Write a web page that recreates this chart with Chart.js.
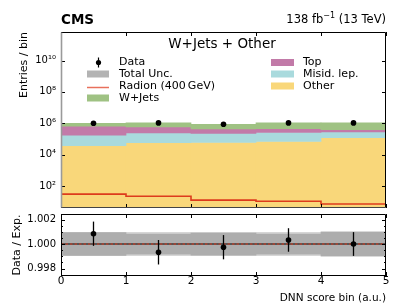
<!DOCTYPE html>
<html><head><meta charset="utf-8">
<script src="https://cdn.jsdelivr.net/npm/chart.js@4/dist/chart.umd.min.js"></script>
<style>
html,body{margin:0;padding:0;background:#fff;}
#wrap{position:relative;width:407px;height:305px;overflow:hidden;background:#fff;}
#c1{position:absolute;left:0;top:0;}
#c2{position:absolute;left:0;top:210px;}
</style></head><body>
<div id="wrap"><canvas id="c1" width="407" height="212"></canvas><canvas id="c2" width="407" height="95"></canvas></div>
<script>
// ---- data ----
const binEdges   = [0, 1, 2, 3, 4, 5];
const binCenters = [0.5, 1.5, 2.5, 3.5, 4.5];
const otherBkg = [3.7e4, 5.7e4, 5.9e4, 6.8e4, 1.18e5];
const misidLep = [1.38e5, 1.88e5, 1.68e5, 1.87e5, 1.64e5];
const topQuark = [4.75e5, 3.4e5, 2.1e5, 2.02e5, 1.13e5];
const wJets    = [3.5e5, 4.65e5, 4.28e5, 5.93e5, 6.55e5];
const radion   = [30, 22, 12.5, 10.5, 7];
const dataObs  = [1.0e6, 1.05e6, 8.65e5, 1.05e6, 1.05e6];
const ratio    = [1.00084, 0.99933, 0.99974, 1.00033, 1.0000];
const ratioErr = [0.00099, 0.00100, 0.00099, 0.00096, 0.00097];
const uncDark  = [0.00094, 0.00082, 0.00090, 0.00082, 0.00098];
const uncLight = [0.00096, 0.00096, 0.00096, 0.00096, 0.00099];
const mainYTicks  = [1e2, 1e4, 1e6, 1e8, 1e10];
const ratioYTicks = [0.998, 1.000, 1.002];
const xTicks = [0, 1, 2, 3, 4, 5];

const FONT = "'DejaVu Sans', sans-serif";
const COL = {wj:'#9fc283', top:'#c27aa8', misid:'#a9dadd', other:'#f9d77a', radion:'#dd3b1c', unc:'#b3b3b3'};

// cumulative stack
const s1 = otherBkg.slice();
const s2 = s1.map((v,i)=>v+misidLep[i]);
const s3 = s2.map((v,i)=>v+topQuark[i]);
const s4 = s3.map((v,i)=>v+wJets[i]);
const floor = 1;

function floating(lo, hi){ return binCenters.map((c,i)=>({x:c, y:[lo[i], hi[i]]})); }
function stepPts(arr){ const p = arr.map((v,i)=>({x:binEdges[i], y:v})); p.push({x:binEdges[5], y:arr[arr.length-1]}); return p; }
const SUP = {'0':'⁰','1':'¹','2':'²','3':'³','4':'⁴','5':'⁵','6':'⁶','7':'⁷','8':'⁸','9':'⁹'};
function logLabel(v){ const e = Math.round(Math.log10(v)); return '10' + String(e).split('').map(c=>SUP[c]).join(''); }
function noPad(s){ s.paddingTop = 0; s.paddingBottom = 0; s.paddingLeft = 0; s.paddingRight = 0; }

const barCommon = {type:'bar', grouped:false, barPercentage:1, categoryPercentage:1, borderWidth:0, borderSkipped:false};

const framePlugin = {
  id:'frame',
  afterDatasetsDraw(chart, args, o){
    const {ctx, chartArea:a, scales} = chart;
    const xs = scales.x, ys = scales.y;
    ctx.save();
    ctx.lineWidth = 1; ctx.strokeStyle = '#000';
    ctx.beginPath();
    for (const v of o.xt){ const px = Math.round(xs.getPixelForValue(v))+0.5;
      ctx.moveTo(px, a.top); ctx.lineTo(px, a.top+4); ctx.moveTo(px, a.bottom); ctx.lineTo(px, a.bottom-4); }
    for (const v of o.yt){ const py = Math.round(ys.getPixelForValue(v))+0.5;
      ctx.moveTo(a.left, py); ctx.lineTo(a.left+4, py); ctx.moveTo(a.right, py); ctx.lineTo(a.right-4, py); }
    for (const v of (o.ym||[])){ const py = Math.round(ys.getPixelForValue(v))+0.5;
      ctx.moveTo(a.left, py); ctx.lineTo(a.left+2, py); ctx.moveTo(a.right, py); ctx.lineTo(a.right-2, py); }
    ctx.stroke();
    // spines
    const L = Math.round(a.left)+0.5, R = Math.round(a.right)-0.5, T = Math.round(a.top)+0.5, B = Math.round(a.bottom)-0.5;
    ctx.beginPath(); ctx.strokeStyle='#000'; ctx.moveTo(L,T); ctx.lineTo(R,T); ctx.lineTo(R,B); ctx.stroke();
    ctx.beginPath(); ctx.strokeStyle=o.bottomCol; ctx.moveTo(L,B); ctx.lineTo(R,B); ctx.stroke();
    ctx.beginPath(); ctx.strokeStyle=o.leftCol; ctx.lineWidth=o.leftW; ctx.moveTo(L,T); ctx.lineTo(L,B); ctx.stroke();
    ctx.restore();
  }
};

const textPlugin = {
  id:'texts',
  afterDraw(chart){
    const ctx = chart.ctx;
    ctx.save();
    ctx.fillStyle = '#000'; ctx.textBaseline = 'middle';
    ctx.font = "bold 13.5px " + FONT; ctx.textAlign = 'left';
    ctx.fillText('CMS', 61, 20);
    // luminosity text, right aligned
    const f1 = "11.5px " + FONT, f2 = "8px " + FONT;
    ctx.font = f1; const wA = ctx.measureText('138 fb').width, wC = ctx.measureText(' (13 TeV)').width;
    ctx.font = f2; const wB = ctx.measureText('−1').width;
    let x0 = 386 - (wA+wB+wC);
    ctx.font = f1; ctx.fillText('138 fb', x0, 20);
    ctx.font = f2; ctx.fillText('−1', x0+wA, 16);
    ctx.font = f1; ctx.fillText(' (13 TeV)', x0+wA+wB, 20);
    // title
    ctx.font = "13.5px " + FONT; ctx.textAlign = 'center';
    ctx.fillText('W+Jets + Other', 222, 44);
    // legend
    ctx.font = "11px " + FONT; ctx.textAlign = 'left';
    const rows = [62.5, 74, 86, 98];
    ctx.strokeStyle = '#000'; ctx.lineWidth = 1.2;
    ctx.beginPath(); ctx.moveTo(98.5, rows[0]-5); ctx.lineTo(98.5, rows[0]+5); ctx.stroke();
    ctx.beginPath(); ctx.arc(98.5, rows[0], 2.6, 0, Math.PI*2); ctx.fill();
    ctx.fillText('Data', 119, rows[0]);
    ctx.fillStyle = COL.unc; ctx.fillRect(87, rows[1]-3.5, 22, 7);
    ctx.fillStyle = '#000'; ctx.fillText('Total Unc.', 119, rows[1]);
    ctx.strokeStyle = '#e8705c'; ctx.lineWidth = 1.5;
    ctx.beginPath(); ctx.moveTo(87, rows[2]+1.5); ctx.lineTo(109, rows[2]+1.5); ctx.stroke();
    ctx.fillText('Radion (400\u2009GeV)', 119, rows[2]);
    ctx.fillStyle = COL.wj; ctx.fillRect(87, rows[3]-3.5, 22, 7);
    ctx.fillStyle = '#000'; ctx.fillText('W+Jets', 119, rows[3]);
    const rc = [['Top', COL.top], ['Misid. lep.', COL.misid], ['Other', COL.other]];
    rc.forEach((r,i)=>{ ctx.fillStyle = r[1]; ctx.fillRect(271, rows[i]-3.5, 23, 7); ctx.fillStyle='#000'; ctx.fillText(r[0], 303, rows[i]); });
    ctx.restore();
  }
};

const errPlugin = {
  id:'errbars',
  afterDatasetsDraw(chart){
    const {ctx, scales} = chart; const xs = scales.x, ys = scales.y;
    ctx.save(); ctx.strokeStyle = '#000'; ctx.lineWidth = 1.3;
    ratio.forEach((r,i)=>{
      const px = xs.getPixelForValue(binCenters[i]);
      ctx.beginPath(); ctx.moveTo(px, ys.getPixelForValue(r-ratioErr[i])); ctx.lineTo(px, ys.getPixelForValue(r+ratioErr[i])); ctx.stroke();
    });
    ctx.restore();
  }
};

Chart.defaults.font.family = FONT;
Chart.defaults.color = '#000';

new Chart(document.getElementById('c1'), {
  type:'bar',
  data:{ datasets:[
    {type:'scatter', data: binCenters.map((c,i)=>({x:c, y:dataObs[i]})), pointRadius:2.8, pointBackgroundColor:'#000', pointBorderWidth:0, order:0},
    {type:'line', data: stepPts(radion), stepped:'before', borderColor:COL.radion, borderWidth:1.6, pointRadius:0, fill:false, order:1},
    Object.assign({}, barCommon, {data: floating(s3, s4), backgroundColor: COL.wj, order:2}),
    Object.assign({}, barCommon, {data: floating(s2, s3), backgroundColor: COL.top, order:3}),
    Object.assign({}, barCommon, {data: floating(s1, s2), backgroundColor: COL.misid, order:4}),
    Object.assign({}, barCommon, {data: floating(s1.map(()=>floor), s1), backgroundColor: COL.other, order:5}),
  ]},
  options:{
    responsive:false, animation:false, events:[],
    layout:{padding:{left:0, right:21, top:32, bottom:2}},
    plugins:{legend:{display:false}, tooltip:{enabled:false},
      frame:{xt:xTicks, yt:mainYTicks, leftCol:'#9a9a9a', leftW:1.6, bottomCol:'#444'}},
    scales:{
      x:{type:'linear', display:false, min:0, max:5, offset:false, bounds:'data', afterFit: noPad},
      y:{type:'logarithmic', min:3.92, max:6.6e11, bounds:'data',
        afterBuildTicks: s => { s.ticks = mainYTicks.map(v=>({value:v})); },
        afterFit: s => { s.width = 61; noPad(s); },
        grid:{display:false, drawTicks:false}, border:{display:false},
        ticks:{callback: v => logLabel(v), font:{size:10}, padding:5, autoSkip:false},
        title:{display:true, text:'Entries / bin', align:'end', font:{size:11}, padding:{top:18}}
      }
    }
  },
  plugins:[framePlugin, textPlugin]
});

new Chart(document.getElementById('c2'), {
  type:'bar',
  data:{ datasets:[
    {type:'scatter', data: binCenters.map((c,i)=>({x:c, y:ratio[i]})), pointRadius:2.8, pointBackgroundColor:'#000', pointBorderWidth:0, order:0},
    {type:'line', data: [{x:0,y:1},{x:5,y:1}], borderColor:'#e03a1e', borderWidth:1, borderDash:[2.5,2], pointRadius:0, fill:false, order:1},
    {type:'line', data: [{x:0,y:1},{x:5,y:1}], borderColor:'#000', borderWidth:1.2, pointRadius:0, fill:false, order:2},
    Object.assign({}, barCommon, {data: floating(uncDark.map(u=>1-u), uncDark.map(u=>1+u)), backgroundColor:'#adadad', order:3}),
    Object.assign({}, barCommon, {data: floating(uncLight.map(u=>1-u), uncLight.map(u=>1+u)), backgroundColor:'#d6d6d6', order:4}),
  ]},
  options:{
    responsive:false, animation:false, events:[],
    layout:{padding:{left:0, right:21, top:4, bottom:0}},
    plugins:{legend:{display:false}, tooltip:{enabled:false},
      frame:{xt:xTicks, yt:ratioYTicks, ym:[0.9975,0.9985,0.999,0.9995,1.0005,1.001,1.0015], leftCol:'#000', leftW:1, bottomCol:'#000'}},
    scales:{
      x:{type:'linear', min:0, max:5, offset:false, bounds:'data',
        afterBuildTicks: s => { s.ticks = xTicks.map(v=>({value:v})); },
        afterFit: s => { s.height = 29; noPad(s); },
        grid:{display:false, drawTicks:false}, border:{display:false},
        ticks:{font:{size:10.5}, padding:-1, maxRotation:0, autoSkip:false},
        title:{display:true, text:'DNN score bin (a.u.)', align:'end', font:{size:10.5}, padding:{top:0, bottom:0}}
      },
      y:{type:'linear', min:0.99739, max:1.00245, bounds:'data',
        afterBuildTicks: s => { s.ticks = ratioYTicks.map(v=>({value:v})); },
        afterFit: s => { s.width = 61; noPad(s); },
        grid:{display:false, drawTicks:false}, border:{display:false},
        ticks:{callback: v => v.toFixed(3), font:{size:10}, padding:5, autoSkip:false},
        title:{display:true, text:'Data / Exp.', align:'center', font:{size:11}, padding:{top:11}}
      }
    }
  },
  plugins:[framePlugin, errPlugin]
});
</script>
</body></html>
